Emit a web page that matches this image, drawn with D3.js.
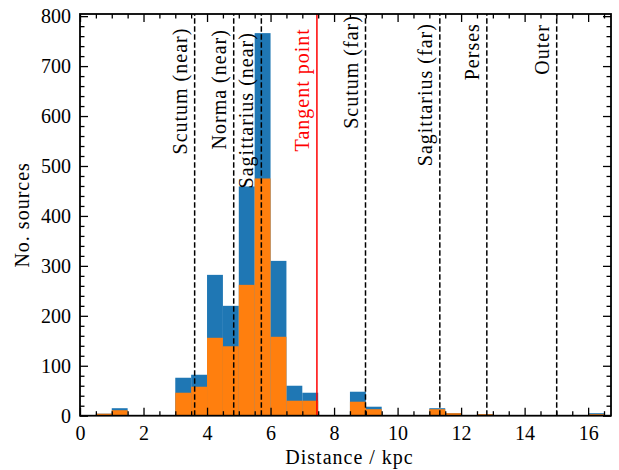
<!DOCTYPE html>
<html>
<head>
<meta charset="utf-8">
<script src="https://cdn.jsdelivr.net/npm/d3@7"></script>
<style>
  html, body { margin: 0; padding: 0; background: #fff; }
  svg { display: block; }
  text { font-family: 'Liberation Serif', serif; fill: #000; }
  .lbl { letter-spacing: 1px; }
</style>
</head>
<body>
<script>
// histogram bins (left edges, kpc), bin width 0.5 kpc
const binLeft = [0.5, 1.0, 3.0, 3.5, 4.0, 4.5, 5.0, 5.5, 6.0, 6.5, 7.0, 8.5, 9.0, 11.0, 11.5, 12.5, 16.0];
const binWidth = 0.5;
const allSources = [4, 15, 76, 82, 282, 220, 459, 766, 310, 60, 46, 48, 18, 15, 5, 3, 5];
const subSources = [4, 11, 46, 58, 156, 139, 262, 475, 158, 30, 30, 28, 13, 13, 5, 3, 3];

// spiral arm crossings (kpc)
const armNames = ['Scutum (near)', 'Norma (near)', 'Sagittarius (near)', 'Scutum (far)',
  'Sagittarius (far)', 'Perses', 'Outer'];
const armDist = [3.61, 4.84, 5.71, 8.99, 11.33, 12.81, 15.01];
const tangentName = 'Tangent point';
const tangentDist = 7.46;

const xTicks = [0, 2, 4, 6, 8, 10, 12, 14, 16];
const yTicks = [0, 100, 200, 300, 400, 500, 600, 700, 800];

function histogram({
  width = 619,
  height = 470,
  margin = { top: 14, right: 8, bottom: 54.3, left: 80 },
  xMax = 16.72,
}) {
  const x = d3.scaleLinear().domain([0, xMax]).range([margin.left, width - margin.right]);
  const y = d3.scaleLinear().domain([0, 1.05 * d3.max(allSources)])
    .range([height - margin.bottom, margin.top]);

  const svg = d3.select('body').append('svg')
    .attr('width', width)
    .attr('height', height)
    .attr('viewBox', [0, 0, width, height]);

  const bins = binLeft.map((b, i) => ({ b, all: allSources[i], sub: subSources[i] }));

  svg.append('g').selectAll('rect')
    .data(bins)
    .join('rect')
    .attr('x', (d) => x(d.b))
    .attr('width', (d) => x(d.b + binWidth) - x(d.b))
    .attr('y', (d) => y(d.all))
    .attr('height', (d) => y(0) - y(d.all))
    .attr('fill', '#1f77b4');

  svg.append('g').selectAll('rect')
    .data(bins)
    .join('rect')
    .attr('x', (d) => x(d.b))
    .attr('width', (d) => x(d.b + binWidth) - x(d.b))
    .attr('y', (d) => y(d.sub))
    .attr('height', (d) => y(0) - y(d.sub))
    .attr('fill', '#ff7f0e');

  // arm lines
  svg.append('g').selectAll('line')
    .data(armDist)
    .join('line')
    .attr('x1', (d) => x(d)).attr('x2', (d) => x(d))
    .attr('y1', y.range()[0]).attr('y2', y.range()[1])
    .attr('stroke', '#000')
    .attr('stroke-width', 1.5)
    .attr('stroke-dasharray', '5.5,2.5');

  svg.append('line')
    .attr('x1', x(tangentDist)).attr('x2', x(tangentDist))
    .attr('y1', y.range()[0]).attr('y2', y.range()[1])
    .attr('stroke', '#ff0000')
    .attr('stroke-width', 1.5);

  // label tops (counts) where each rotated label ends
  const armLabelTop = [777, 774, 768, 802, 786, 786, 784];
  svg.append('g').selectAll('text')
    .data(armNames)
    .join('text')
    .attr('class', 'lbl')
    .attr('transform', (d, i) => `translate(${x(armDist[i]) - 8},${y(armLabelTop[i])}) rotate(-90)`)
    .attr('text-anchor', 'end')
    .attr('font-size', 20)
    .text((d) => d);

  svg.append('text')
    .attr('class', 'lbl')
    .attr('transform', `translate(${x(tangentDist) - 8},${y(776)}) rotate(-90)`)
    .attr('text-anchor', 'end')
    .attr('font-size', 20)
    .style('fill', '#ff0000')
    .text(tangentName);

  // axes, ticks inward on all sides
  const xMinor = d3.range(0, xMax, 0.5).filter((v) => v % 2 !== 0);
  const yMinor = d3.range(0, y.domain()[1], 20).filter((v) => v % 100 !== 0);
  const bottom = y.range()[0];
  const top = y.range()[1];
  const left = x.range()[0];
  const right = x.range()[1];

  const styleAxis = (g) => {
    g.select('.domain').remove();
    g.selectAll('.tick line').attr('stroke', '#000').attr('stroke-width', 1.3);
    g.selectAll('.tick text')
      .attr('font-family', 'Liberation Serif, serif')
      .attr('font-size', 20);
  };

  svg.append('g').attr('transform', `translate(0,${bottom})`)
    .call(d3.axisBottom(x).tickValues(xTicks).tickSize(-8).tickPadding(10).tickFormat(d3.format('d')))
    .call(styleAxis);
  svg.append('g').attr('transform', `translate(0,${bottom})`)
    .call(d3.axisBottom(x).tickValues(xMinor).tickSize(-4.5).tickFormat(''))
    .call(styleAxis);
  svg.append('g').attr('transform', `translate(0,${top})`)
    .call(d3.axisTop(x).tickValues(xTicks).tickSize(-8).tickFormat(''))
    .call(styleAxis);
  svg.append('g').attr('transform', `translate(0,${top})`)
    .call(d3.axisTop(x).tickValues(xMinor).tickSize(-4.5).tickFormat(''))
    .call(styleAxis);

  svg.append('g').attr('transform', `translate(${left},0)`)
    .call(d3.axisLeft(y).tickValues(yTicks).tickSize(-8).tickPadding(9).tickFormat(d3.format('d')))
    .call(styleAxis);
  svg.append('g').attr('transform', `translate(${left},0)`)
    .call(d3.axisLeft(y).tickValues(yMinor).tickSize(-4.5).tickFormat(''))
    .call(styleAxis);
  svg.append('g').attr('transform', `translate(${right},0)`)
    .call(d3.axisRight(y).tickValues(yTicks).tickSize(-8).tickFormat(''))
    .call(styleAxis);
  svg.append('g').attr('transform', `translate(${right},0)`)
    .call(d3.axisRight(y).tickValues(yMinor).tickSize(-4.5).tickFormat(''))
    .call(styleAxis);

  svg.append('rect')
    .attr('x', left).attr('y', top)
    .attr('width', right - left).attr('height', bottom - top)
    .attr('fill', 'none')
    .attr('stroke', '#000')
    .attr('stroke-width', 1.8);

  svg.append('text')
    .attr('class', 'lbl')
    .attr('x', (left + right) / 2 + 4)
    .attr('y', 464)
    .attr('text-anchor', 'middle')
    .attr('font-size', 20)
    .text('Distance / kpc');

  svg.append('text')
    .attr('class', 'lbl')
    .attr('transform', `translate(29,${(top + bottom) / 2}) rotate(-90)`)
    .attr('text-anchor', 'middle')
    .attr('font-size', 20)
    .text('No. sources');

  return svg;
}

histogram({});
</script>
</body>
</html>
